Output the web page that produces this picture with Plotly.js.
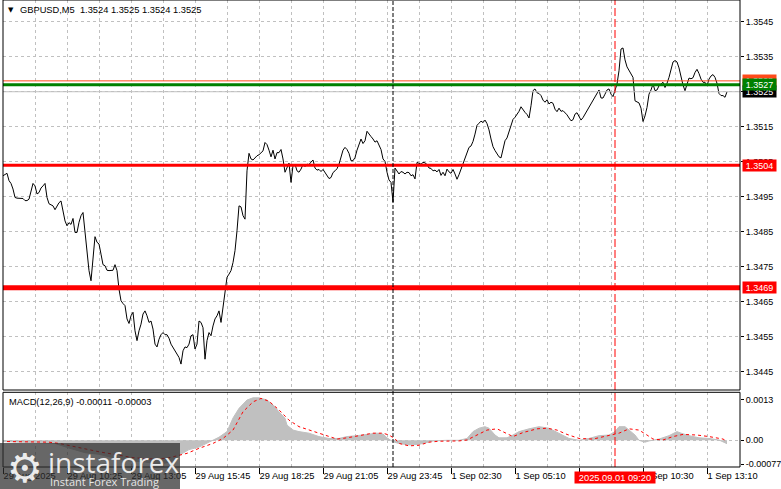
<!DOCTYPE html>
<html>
<head>
<meta charset="utf-8">
<script src="https://cdn.plot.ly/plotly-3.0.1.min.js"></script>
<style>html,body{margin:0;padding:0;background:#fff;}#chart{width:781px;height:489px;}</style>
</head>
<body>
<div id="chart"></div>
<script>
// ---- Data (bar index = position in array, 5-minute bars) ----
const close = [
1.35010,1.35013,1.35017,1.34996,1.34988,1.34972,1.34948,1.34946,1.34946,1.34945,
1.34945,1.34939,1.34939,1.34943,1.34967,1.34988,1.34981,1.34958,1.34962,1.34975,
1.34981,1.34988,1.34948,1.34930,1.34927,1.34924,1.34913,1.34924,1.34933,1.34938,
1.34910,1.34881,1.34867,1.34876,1.34871,1.34888,1.34848,1.34848,1.34877,1.34896,
1.34905,1.34853,1.34805,1.34739,1.34710,1.34786,1.34836,1.34820,1.34815,1.34786,
1.34756,1.34753,1.34740,1.34739,1.34739,1.34740,1.34756,1.34739,1.34686,1.34653,
1.34645,1.34639,1.34601,1.34588,1.34610,1.34620,1.34567,1.34539,1.34567,1.34586,
1.34615,1.34624,1.34610,1.34591,1.34595,1.34572,1.34529,1.34521,1.34543,1.34556,
1.34562,1.34556,1.34556,1.34546,1.34529,1.34520,1.34512,1.34502,1.34491,1.34472,
1.34510,1.34521,1.34519,1.34529,1.34553,1.34556,1.34515,1.34529,1.34595,1.34591,
1.34576,1.34486,1.34539,1.34562,1.34553,1.34581,1.34601,1.34610,1.34624,1.34591,
1.34634,1.34691,1.34720,1.34729,1.34739,1.34762,1.34796,1.34853,1.34924,1.34921,
1.34896,1.34886,1.35024,1.35074,1.35058,1.35055,1.35062,1.35067,1.35070,
1.35075,1.35081,1.35105,1.35099,1.35083,1.35064,1.35083,1.35058,1.35076,1.35076,
1.35085,1.35058,1.35020,1.35032,1.35046,1.34991,1.35039,1.35043,1.35024,1.35020,
1.35029,1.35042,1.35036,1.35043,1.35042,1.35049,1.35055,1.35032,1.35026,1.35028,
1.35022,1.35028,1.35020,1.35009,1.35002,1.35005,1.35019,1.35024,1.35030,1.35043,
1.35064,1.35083,1.35091,1.35085,1.35074,1.35053,1.35053,1.35062,1.35083,1.35100,
1.35115,1.35102,1.35110,1.35137,1.35131,1.35122,1.35115,1.35106,1.35110,1.35097,
1.35085,1.35058,1.35051,1.35020,1.34998,1.34991,1.34935,1.35032,1.35022,1.35015,
1.35022,1.35020,1.35015,1.35020,1.35019,1.35010,1.35013,1.35001,1.35048,1.35045,
1.35043,1.35048,1.35047,1.35042,1.35032,1.35031,1.35024,1.35026,1.35021,1.35028,
1.35011,1.35020,1.35010,1.35029,1.35021,1.35017,1.35028,1.35015,1.35000,1.35013,
1.35028,1.35045,1.35058,1.35074,1.35091,1.35095,1.35108,1.35129,1.35154,1.35160,
1.35166,1.35162,1.35169,1.35159,1.35141,1.35115,1.35093,1.35082,1.35072,1.35064,
1.35061,1.35083,1.35110,1.35118,1.35134,1.35153,1.35171,1.35177,1.35186,1.35194,
1.35207,1.35198,1.35191,1.35185,1.35175,1.35210,1.35253,1.35258,1.35247,1.35245,
1.35239,1.35226,1.35220,1.35227,1.35215,1.35220,1.35217,1.35200,1.35193,1.35203,
1.35194,1.35196,1.35191,1.35184,1.35175,1.35167,1.35170,1.35186,1.35190,1.35179,
1.35169,1.35176,1.35186,1.35196,1.35205,1.35218,1.35224,1.35234,1.35246,1.35255,
1.35232,1.35232,1.35243,1.35255,1.35258,1.35243,1.35236,1.35258,1.35272,1.35310,
1.35372,1.35375,1.35341,1.35321,1.35310,1.35302,1.35291,1.35224,1.35220,1.35218,
1.35203,1.35165,1.35181,1.35205,1.35243,1.35255,1.35272,1.35253,1.35255,1.35267,
1.35272,1.35277,1.35262,1.35274,1.35291,1.35318,1.35335,1.35339,1.35335,1.35318,
1.35291,1.35269,1.35253,1.35272,1.35289,1.35287,1.35290,1.35305,1.35314,1.35302,
1.35286,1.35277,1.35277,1.35267,1.35286,1.35295,1.35299,1.35291,1.35274,1.35245,
1.35239,1.35239,1.35234,1.35250
];

const macdBar  = [0,8,18,26,33,41,48,56,63,71,78,84,89,93,98,102,105,108,112,115,118,122,125,128,132,135,138,141,142,145,148,153,158,163,168,172,177,182,187,190,192,195,198,203,208,212,215,222,228,232,235,238,241,243,246,248,252,255,258,263,268,273,278,283,288,293,298,303,306,308,311,313,316,318,321,323,328,333,337,339,343,348,353,358,362];
const macdHist = [-0.00004,-0.00006,-0.00008,-0.0001,-0.00025,-0.0004,-0.00045,-0.00058,-0.00066,-0.0007,-0.00077,-0.0007,-0.00045,-0.0003,-0.00022,-0.0001,0,0.0001,0.00028,0.00072,0.00103,0.0013,0.00137,0.00137,0.0013,0.00114,0.00092,0.00071,0.00049,0.00033,0.00028,0.00023,0.00012,0.00006,0.00006,0.00012,0.00015,0.00019,0.00023,0.0002,0.00008,-0.00005,-0.0001,-0.00015,-0.00013,-0.00007,-0.00002,0,0,0.00006,0.00028,0.00039,0.00044,0.00039,0.00017,0.00008,0.00008,0.00017,0.00028,0.00037,0.00044,0.00039,0.00023,0.00006,0,0.00006,0.00015,0.00017,0.00028,0.00044,0.00044,0.00033,0.00017,0,-0.00006,-0.00002,0.00004,0.00015,0.00028,0.00023,0.00015,0.00008,0.00006,0.00001,-0.00011];

const sigBar = [2,8,15,23,28,35,42,48,57,65,73,82,87,92,98,105,110,115,120,125,129,133,138,143,148,153,158,163,167,172,178,185,190,193,196,198,203,208,213,218,228,232,237,242,247,252,255,260,267,272,277,282,288,295,303,308,313,318,322,325,330,335,340,347,353,360,362];
const sigVal = [-0.00004,-0.00004,-0.00005,-0.00006,-0.0001,-0.0002,-0.0003,-0.00037,-0.00047,-0.00056,-0.0006,-0.00058,-0.0005,-0.00042,-0.00026,-0.0001,0.00006,0.00033,0.00092,0.00124,0.00135,0.00126,0.00098,0.00065,0.00044,0.00033,0.00023,0.00012,0.00004,0.00008,0.00015,0.00023,0.00023,0.00017,0.00005,-0.0001,-0.00018,-0.00016,-0.00006,-0.00003,-0.00002,0.00001,0.00017,0.00033,0.00037,0.00023,0.00012,0.00025,0.00037,0.00039,0.00033,0.00019,0.00006,0.00004,0.00015,0.00023,0.00037,0.00033,0.00017,0.00004,0.00001,0.00012,0.00019,0.00017,0.00012,0.00004,-0.00003];

const timeLabels = ["29 Aug 2025","29 Aug 10:25","29 Aug 13:05","29 Aug 15:45","29 Aug 18:25","29 Aug 21:05","29 Aug 23:45","1 Sep 02:30","1 Sep 05:10","1 Sep 07:50","1 Sep 10:30","1 Sep 13:10"];
const barsPerLabel = 32;
const priceTicks = [1.3445,1.3455,1.3465,1.3475,1.3485,1.3495,1.3505,1.3515,1.3525,1.3535,1.3545];
const macdTicks = [0.0013,0,-0.00077];
const macdTickText = ["0.0013","0.00","-0.00077"];

const supportLevels = [1.3504, 1.3469];   // red
const targetLevel = 1.3527;               // green
const askLevel = 1.35281;                 // orange-red
const bidLevel = 1.3525;                  // grey
const weekSeparatorBar = 195;
const cursorBar = 306;
const cursorLabel = "2025.09.01 09:20";
const headerText = "GBPUSD,M5  1.3524 1.3525 1.3524 1.3525";
const macdText = "MACD(12,26,9) -0.00011 -0.00003";

// ---- Chart ----
const F = "Liberation Sans, Arial, sans-serif";
const GRID = "#c0c0c0";
const barIdx = close.map((_, i) => i);
const tickBars = timeLabels.map((_, i) => i * barsPerLabel);

const traces = [
  {x: macdBar, y: macdHist, type: 'scatter', mode: 'lines', xaxis: 'x', yaxis: 'y2',
   fill: 'tozeroy', fillcolor: '#c0c0c0', line: {color: '#c0c0c0', width: 1}, hoverinfo: 'skip'},
  {x: sigBar, y: sigVal, type: 'scatter', mode: 'lines', xaxis: 'x', yaxis: 'y2',
   line: {color: '#ff0000', width: 1, dash: '3px,3px'}, hoverinfo: 'skip'},
  {x: barIdx, y: close, type: 'scatter', mode: 'lines', xaxis: 'x', yaxis: 'y',
   line: {color: '#000000', width: 1}, hoverinfo: 'skip'}
];

const mainDom = [77/467, 1];
const macdDom = [0, 74.7/467];

const shapes = [
  // level lines
  {type:'line', xref:'paper', x0:0, x1:1, yref:'y', y0:bidLevel, y1:bidLevel, line:{color:'#c0c0c0', width:1}, layer:'above'},
  {type:'line', xref:'paper', x0:0, x1:1, yref:'y', y0:askLevel, y1:askLevel, line:{color:'#ff4a1a', width:1}, layer:'above'},
  {type:'line', xref:'paper', x0:0, x1:1, yref:'y', y0:targetLevel, y1:targetLevel, line:{color:'#008000', width:3}, layer:'above'},
  {type:'line', xref:'paper', x0:0, x1:1, yref:'y', y0:supportLevels[0], y1:supportLevels[0], line:{color:'#ff0000', width:3}, layer:'above'},
  {type:'line', xref:'paper', x0:0, x1:1, yref:'y', y0:supportLevels[1], y1:supportLevels[1], line:{color:'#ff0000', width:5}, layer:'above'},
  // vertical markers
  {type:'line', xref:'x', x0:weekSeparatorBar, x1:weekSeparatorBar, yref:'paper', y0:0, y1:1, line:{color:'#000', width:1, dash:'4px,2px'}, layer:'above'},
  {type:'line', xref:'x', x0:cursorBar, x1:cursorBar, yref:'paper', y0:0, y1:1, line:{color:'#ff0000', width:1, dash:'8px,3px'}, layer:'above'},
  // panel borders
  {type:'rect', xref:'paper', x0:0, x1:1, yref:'paper', y0:mainDom[0], y1:mainDom[1], line:{color:'#000', width:1}, layer:'above'},
  {type:'rect', xref:'paper', x0:0, x1:1, yref:'paper', y0:macdDom[0], y1:macdDom[1], line:{color:'#000', width:1}, layer:'above'},
  // logo box
  {type:'rect', xref:'paper', x0:-3/737, x1:177/737, yref:'paper', y0:-22/467, y1:24/467, fillcolor:'rgba(45,45,45,0.72)', line:{width:0}, layer:'above'}
];

function priceBox(val, txt, bg) {
  return {xref:'paper', x:1, xanchor:'left', xshift:2, yref:'y', y:val, yanchor:'middle',
    text:txt, showarrow:false, bgcolor:bg, font:{family:F, size:9, color:'#fff'},
    width:33, height:11, borderpad:0, align:'center'};
}

const annotations = [
  {xref:'paper', x:3/737, xanchor:'left', yref:'paper', y:1-10/467, yanchor:'middle', text:'▼', showarrow:false, font:{family:'DejaVu Sans', size:7, color:'#000'}},
  {xref:'paper', x:15/737, xanchor:'left', yref:'paper', y:1-10.5/467, yanchor:'middle', text:headerText, showarrow:false, font:{family:F, size:9.3, color:'#000'}},
  {xref:'paper', x:4/737, xanchor:'left', yref:'paper', y:65.5/467, yanchor:'middle', text:macdText, showarrow:false, font:{family:F, size:9.3, color:'#000'}},
  priceBox(askLevel, '1.3528', '#ff4a1a'),
  priceBox(bidLevel, '1.3525', '#000000'),
  priceBox(targetLevel, '1.3527', '#008000'),
  priceBox(supportLevels[0], '1.3504', '#ff0000'),
  priceBox(supportLevels[1], '1.3469', '#ff0000'),
  {xref:'x', x:cursorBar, xanchor:'center', yref:'paper', y:-10/467, yanchor:'middle', text:cursorLabel, showarrow:false,
   bgcolor:'#ff0000', font:{family:F, size:9.3, color:'#fff'}, width:80, height:11, borderpad:0},
  // logo
  {xref:'paper', x:22/737, xanchor:'center', yref:'paper', y:-0.5/467, yanchor:'middle', text:'⚙', showarrow:false,
   font:{family:'DejaVu Sans', size:40, color:'rgba(255,255,255,0.9)'}},
  {xref:'paper', x:43/737, xanchor:'left', yref:'paper', y:5/467, yanchor:'middle', text:'instaforex', showarrow:false,
   font:{family:'Open Sans, sans-serif', size:28, color:'rgba(255,255,255,0.88)'}},
  {xref:'paper', x:45/737, xanchor:'left', yref:'paper', y:-14/467, yanchor:'middle', text:'Instant Forex Trading', showarrow:false,
   font:{family:'Open Sans, sans-serif', size:11, color:'rgba(255,255,255,0.85)'}}
];

const layout = {
  width: 781, height: 489,
  margin: {l: 3, r: 41, t: 0, b: 22, pad: 0},
  paper_bgcolor: '#ffffff', plot_bgcolor: '#ffffff',
  showlegend: false,
  font: {family: F, size: 9, color: '#000'},
  xaxis: {
    domain: [0, 1], anchor: 'y2', range: [0, 368.5], fixedrange: true,
    tickmode: 'array', tickvals: tickBars, ticktext: timeLabels,
    ticks: 'outside', ticklen: 6, tickcolor: '#000', tickwidth: 1,
    ticklabelposition: 'outside right', tickfont: {family: F, size: 9.3, color: '#000'},
    showgrid: true, gridcolor: GRID, griddash: '3px,3px', gridwidth: 1,
    minor: {dtick: 16, tick0: 0, showgrid: true, gridcolor: GRID, griddash: '3px,3px', ticks: ''},
    zeroline: false, showline: false
  },
  yaxis: {
    domain: mainDom, anchor: 'x', side: 'right', range: [1.34398, 1.35512], fixedrange: true,
    tickmode: 'array', tickvals: priceTicks, tickformat: '.4f',
    ticks: 'outside', ticklen: 3, tickcolor: '#000',
    tickfont: {family: F, size: 9, color: '#000'},
    showgrid: true, gridcolor: GRID, griddash: '3px,3px', zeroline: false, showline: false
  },
  yaxis2: {
    domain: macdDom, anchor: 'x', side: 'right', range: [-0.000861, 0.001548], fixedrange: true,
    tickmode: 'array', tickvals: macdTicks, ticktext: macdTickText,
    ticks: 'outside', ticklen: 3, tickcolor: '#000',
    tickfont: {family: F, size: 9, color: '#000'},
    showgrid: false, zeroline: false, showline: false,
    minor: {tickmode: 'array', tickvals: [0], showgrid: true, gridcolor: GRID, griddash: '3px,3px', ticks: ''}
  },
  shapes: shapes,
  annotations: annotations
};

Plotly.newPlot('chart', traces, layout, {staticPlot: true, displayModeBar: false});
</script>
</body>
</html>
